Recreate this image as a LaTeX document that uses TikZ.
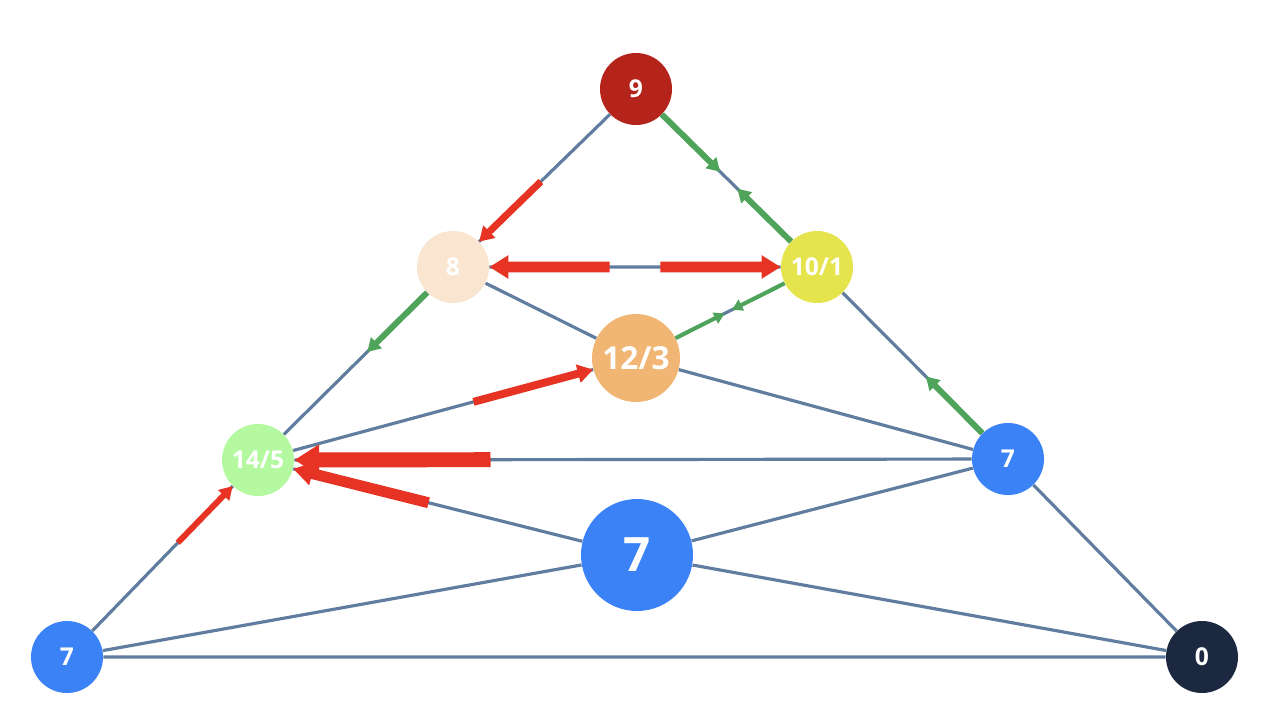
\documentclass[tikz,border=0pt]{standalone}
\usepackage{fontspec}
\setmainfont{Open Sans}
\usetikzlibrary{arrows.meta, calc}

\definecolor{edgegray}{RGB}{96,125,160}
\definecolor{flowred}{RGB}{230,51,35}
\definecolor{flowgreen}{RGB}{79,163,90}
\definecolor{cnine}{RGB}{181,36,27}
\definecolor{ceight}{RGB}{249,229,208}
\definecolor{cten}{RGB}{229,228,77}
\definecolor{ctwelve}{RGB}{241,181,116}
\definecolor{cfourteen}{RGB}{180,249,160}
\definecolor{cblue}{RGB}{59,130,246}
\definecolor{cnavy}{RGB}{27,40,64}

\begin{document}
\begin{tikzpicture}[x=0.2mm, y=-0.2mm,
        v/.style={circle, inner sep=0pt, minimum size=14.4mm, text=white, font=\bfseries\fontsize{14}{14}\selectfont},
        e/.style={draw=edgegray, line width=1.8pt},
        redflow/.style={draw=flowred, line width=#1, -{Triangle[length=3pt 1.3, width=3pt 1.6]}},
        greenflow/.style={draw=flowgreen, line width=#1, -{Triangle[length=3pt 1.3, width=3pt 1.6]}}]
        \useasboundingbox (0,0) rectangle (1270,718); %画像の大きさ

        \node[v, fill=cnine] (t9) at (636,89) {9};
        \node[v, fill=ceight] (l8) at (453,267) {8};
        \node[v, fill=cten] (r10) at (817,267) {10/1};
        \node[v, fill=ctwelve, minimum size=17.6mm, font=\bfseries\fontsize{18}{18}\selectfont] (c12) at (636,358) {12/3};
        \node[v, fill=cfourteen] (l14) at (258,460) {14/5};
        \node[v, fill=cblue] (r7) at (1008,459) {7};
        \node[v, fill=cblue, minimum size=22.4mm, font=\bfseries\fontsize{27}{27}\selectfont] (m7) at (637,555) {7};
        \node[v, fill=cblue] (b7) at (67,657) {7};
        \node[v, fill=cnavy] (b0) at (1202,657) {0};

        \draw[e] (t9)--(l8) (t9)--(r10) (l8)--(r10) (l8)--(l14) (l14)--(b7) (r10)--(r7) (r7)--(b0) (b7)--(b0); %外側の三角形
        \draw[e] (l8)--(c12) (c12)--(r7) (c12)--(r10) (l14)--(c12) (l14)--(r7) (l14)--(m7) (m7)--(r7) (b7)--(m7) (m7)--(b0); %内側

        %赤い矢印
        \draw[redflow=4pt] ($(l8)!0.48!(t9)$) -- (l8);
        \draw[redflow=6pt] ($(l8)!0.43!(r10)$) -- (l8);
        \draw[redflow=6pt] ($(r10)!0.43!(l8)$) -- (r10);
        \draw[redflow=4.5pt] ($(l14)!0.57!(c12)$) -- (c12);
        \draw[redflow=8.5pt] ($(l14)!0.31!(r7)$) -- (l14);
        \draw[redflow=6.2pt] ($(l14)!0.45!(m7)$) -- (l14);
        \draw[redflow=3.4pt] ($(l14)!0.42!(b7)$) -- (l14);

        %緑の矢印
        \draw[greenflow=3.4pt] (t9) -- ($(t9)!0.465!(r10)$);
        \draw[greenflow=3.4pt] (r10) -- ($(r10)!0.44!(t9)$);
        \draw[greenflow=3.4pt] (l8) -- ($(l8)!0.44!(l14)$);
        \draw[greenflow=2.3pt] (c12) -- ($(c12)!0.49!(r10)$);
        \draw[greenflow=2.3pt] (r10) -- ($(r10)!0.47!(c12)$);
        \draw[greenflow=3.4pt] (r7) -- ($(r7)!0.43!(r10)$);

    \end{tikzpicture}
\end{document}
